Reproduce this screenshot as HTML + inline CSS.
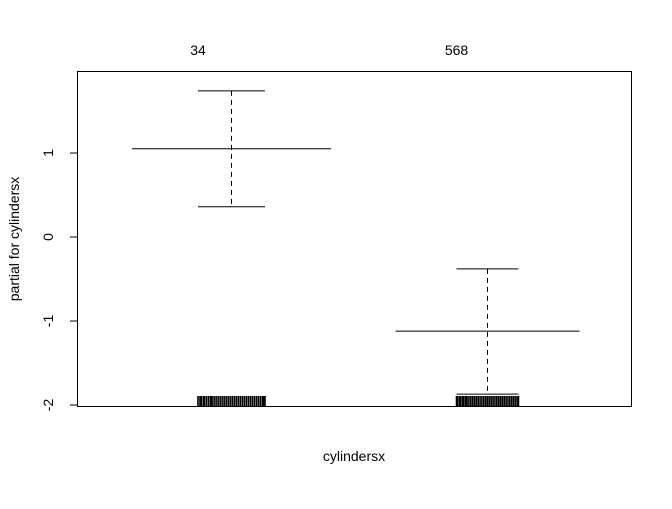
<!DOCTYPE html>
<html><head><meta charset="utf-8"><style>
body{margin:0;background:#fff;}
svg text{font-family:"Liberation Sans",Arial,sans-serif;font-size:14px;fill:#000;}
</style></head><body>
<svg id="chart" width="672" height="504" viewBox="0 0 672 504" xmlns="http://www.w3.org/2000/svg">
<rect x="77.5" y="71.5" width="554" height="335" fill="none" stroke="#000" stroke-width="1"/>
<g id="yaxis"></g>
<text transform="translate(19,239) rotate(-90)" text-anchor="middle">partial for cylindersx</text>
<text x="354" y="461" text-anchor="middle">cylindersx</text>
<g id="marks"></g>
</svg>
<script>
const categories=["34","568"];
const means=[1.05,-1.12];
const upper=[1.74,-0.38];
const lower=[0.36,-1.87];
const groupWidths=[1.0,0.925];
const yTicks=[-2,-1,0,1];
const rug1=[0.00,0.03,0.05,0.08,0.10,0.13,0.16,0.19,0.21,0.24,0.27,0.30,0.33,0.36,0.39,0.42,0.45,0.48,0.51,0.54,0.57,0.60,0.63,0.66,0.69,0.72,0.75,0.78,0.81,0.84,0.87,0.90,0.93,0.96,0.98,1.00];
const rug2=[0.00,0.02,0.05,0.07,0.10,0.12,0.15,0.17,0.20,0.23,0.26,0.29,0.32,0.35,0.38,0.41,0.44,0.47,0.50,0.53,0.56,0.59,0.62,0.65,0.68,0.71,0.74,0.77,0.80,0.83,0.86,0.89,0.92,0.95,0.98,1.00];
const NS="http://www.w3.org/2000/svg";
function y(v){return 237-84*v;}
function xc(i){return 231.5+256*i;}
function mk(tag,attrs,parent){const e=document.createElementNS(NS,tag);for(const k in attrs)e.setAttribute(k,attrs[k]);parent.appendChild(e);return e;}
const ya=document.getElementById('yaxis');
mk('line',{x1:77.5,x2:77.5,y1:y(1),y2:y(-2),stroke:'#000'},ya);
yTicks.forEach(t=>{
 const l=mk('line',{x1:70,x2:77.5,y1:y(t),y2:y(t),stroke:'#000'},ya);
 
 
 const tx=mk('text',{transform:`translate(53,${y(t)}) rotate(-90)`,'text-anchor':'middle'},ya);
 tx.textContent=String(t);
 
 
});
const m=document.getElementById('marks');
const rugs=[rug1,rug2];
categories.forEach((c,i)=>{
 const cx=xc(i);
 const hw=99.5*groupWidths[i];
 const cw=33.5*groupWidths[i];
 const lab=mk('text',{x:cx-cw,y:55,'text-anchor':'middle'},m);
 lab.textContent=c;
 
 
 const ml=mk('line',{x1:cx-hw,x2:cx+hw,y1:y(means[i]),y2:y(means[i]),stroke:'#000'},m);
 
 
 const wl=mk('line',{x1:cx,x2:cx,y1:y(upper[i]),y2:y(lower[i]),stroke:'#000','stroke-dasharray':'5,4'},m);
 
 
 [upper[i],lower[i]].forEach(v=>{
  const cap=mk('line',{x1:cx-cw,x2:cx+cw,y1:y(v),y2:y(v),stroke:'#000'},m);
  
  
 });
 rugs[i].forEach(r=>{
  const rx=cx-cw+r*2*cw;
  const rl=mk('line',{x1:rx,x2:rx,y1:396,y2:406,stroke:'#000','stroke-width':1.6},m);
  
  
 });
});
</script>
</body></html>
